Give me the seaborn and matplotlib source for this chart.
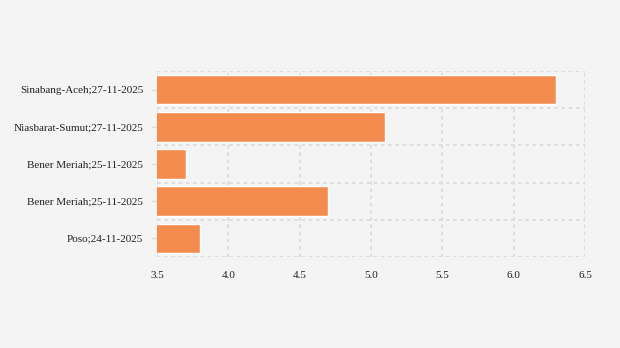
import matplotlib
matplotlib.use("Agg")
import matplotlib.pyplot as plt
import seaborn as sns
import pandas as pd
from matplotlib.ticker import FixedLocator

# Event labels (location;date) and magnitudes, top to bottom
labels = [
    "Sinabang-Aceh;27-11-2025",
    "Niasbarat-Sumut;27-11-2025",
    "Bener Meriah;25-11-2025",
    "Bener Meriah;25-11-2025",
    "Poso;24-11-2025",
]
magnitudes = [6.3, 5.1, 3.7, 4.7, 3.8]
x_ticks = [3.5, 4.0, 4.5, 5.0, 5.5, 6.0, 6.5]

bg = "#F4F4F4"
bar_color = "#F48C4F"
grid_color = "#DCDCDC"

sns.set_theme(style="white")
plt.rcParams["font.family"] = ["Liberation Serif", "DejaVu Serif"]

# Positional keys keep the two identical "Bener Meriah" rows separate
df = pd.DataFrame({"pos": [str(i) for i in range(len(labels))], "mag": magnitudes})

fig = plt.figure(figsize=(6.2, 3.48), dpi=100, facecolor=bg)
ax = fig.add_axes([0.2532, 0.2615, 0.6903, 0.5345])
ax.set_facecolor(bg)

sns.barplot(data=df, x="mag", y="pos", orient="h", color=bar_color,
            saturation=1, width=0.8, ax=ax, zorder=2)

ax.set_xlim(3.5, 6.5)
ax.set_ylim(len(labels) - 0.5, -0.5)
ax.set_xticks(x_ticks)
ax.set_xticklabels([f"{t:.1f}" for t in x_ticks])
ax.set_yticks(range(len(labels)))
ax.set_yticklabels(labels)
ax.yaxis.set_minor_locator(FixedLocator([i - 0.5 for i in range(len(labels) + 1)]))

ax.set_xlabel("")
ax.set_ylabel("")
for s in ax.spines.values():
    s.set_visible(False)

# Dashed grid: vertical at x ticks, horizontal between category bands
ax.set_axisbelow(True)
ax.grid(True, axis="x", which="major", color=grid_color, linestyle=(0, (2, 2)),
        linewidth=1.3)
ax.grid(True, axis="y", which="minor", color=grid_color, linestyle=(0, (2, 2)),
        linewidth=1.3)
ax.grid(False, axis="y", which="major")

ax.tick_params(axis="x", which="both", length=0, pad=10, labelsize=8, labelcolor="#222222")
ax.tick_params(axis="y", which="major", length=4, width=1, color="#DDDDDD",
               pad=6, labelsize=8, labelcolor="#222222", left=True)
ax.tick_params(axis="y", which="minor", length=0)

fig.savefig("out.png", dpi=100, facecolor=bg)
